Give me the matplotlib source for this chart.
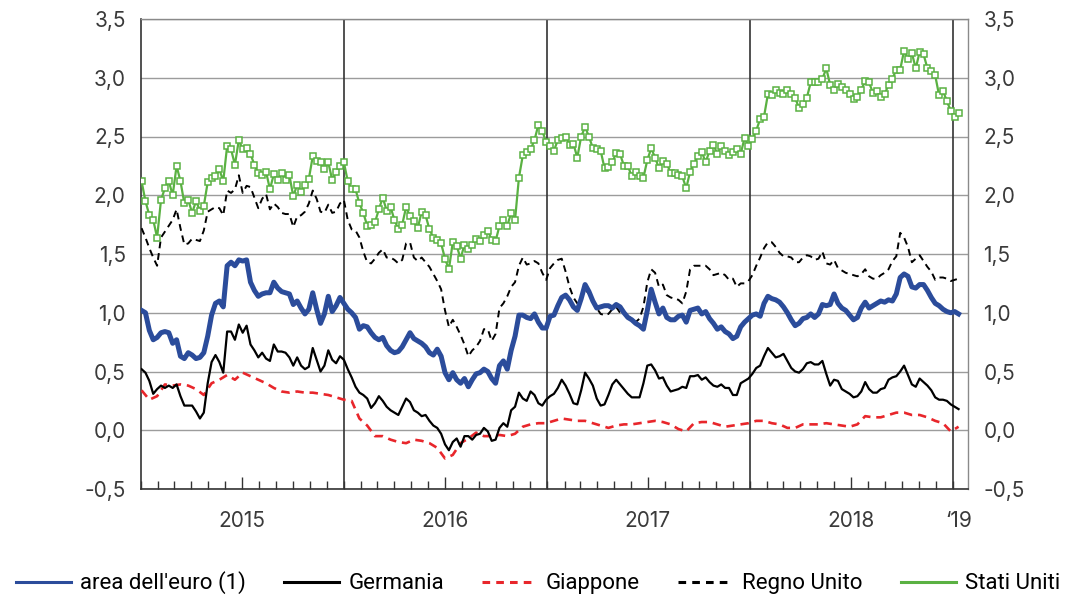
"""plot.py.

Rendimenti dei titoli di Stato decennali: area dell'euro, Germania,
Giappone, Regno Unito e Stati Uniti (dati settimanali, 2015 - gen. 2019).
"""

# === DECLARE IMPORTS ===

import matplotlib

matplotlib.use("Agg")

import matplotlib.dates as mdates
import matplotlib.pyplot as plt
import matplotlib.transforms as mtransforms
import pandas as pd
from matplotlib.lines import Line2D
from matplotlib.ticker import FixedLocator, FuncFormatter

# === DEFINE DATA (weekly values, first week = 2 Jan 2015) ===

start_date = "2015-01-02"

euro_area = [
    1.02, 1.00, 0.85, 0.77, 0.79, 0.83, 0.84, 0.83, 0.74, 0.77,
    0.63, 0.61, 0.66, 0.64, 0.61, 0.62, 0.66, 0.80, 0.98, 1.08,
    1.10, 1.05, 1.40, 1.43, 1.40, 1.45, 1.44, 1.45, 1.26, 1.19,
    1.14, 1.16, 1.17, 1.17, 1.26, 1.21, 1.18, 1.17, 1.16, 1.07,
    1.10, 1.04, 0.99, 1.03, 1.17, 1.03, 0.91, 0.99, 1.14, 1.01,
    1.06, 1.13, 1.08, 1.03, 1.00, 0.96, 0.86, 0.89, 0.88, 0.83,
    0.79, 0.77, 0.79, 0.72, 0.68, 0.66, 0.67, 0.71, 0.77, 0.83,
    0.78, 0.76, 0.74, 0.71, 0.66, 0.64, 0.69, 0.63, 0.49, 0.43,
    0.49, 0.43, 0.40, 0.44, 0.37, 0.43, 0.48, 0.49, 0.52, 0.50,
    0.44, 0.40, 0.55, 0.59, 0.52, 0.68, 0.80, 0.98, 0.98, 0.96,
    0.95, 0.99, 0.92, 0.87, 0.87, 0.97, 0.98, 1.06, 1.13, 1.15,
    1.11, 1.05, 1.02, 1.12, 1.24, 1.18, 1.10, 1.04, 1.05, 1.06,
    1.06, 1.04, 1.07, 1.05, 1.00, 0.96, 0.94, 0.91, 0.89, 0.86,
    1.02, 1.20, 1.09, 0.99, 1.04, 0.96, 0.94, 0.94, 0.97, 0.98,
    0.92, 1.02, 1.03, 1.04, 0.99, 1.01, 0.95, 0.91, 0.86, 0.88,
    0.84, 0.82, 0.78, 0.80, 0.88, 0.92, 0.95, 0.98, 0.99, 0.97,
    1.08, 1.14, 1.12, 1.11, 1.09, 1.05, 1.00, 0.94, 0.89, 0.91,
    0.95, 0.96, 0.99, 0.96, 0.99, 1.07, 1.06, 1.07, 1.16, 1.08,
    1.04, 1.02, 0.98, 0.94, 0.96, 1.04, 1.09, 1.04, 1.06, 1.08,
    1.10, 1.09, 1.11, 1.10, 1.16, 1.30, 1.33, 1.31, 1.22, 1.21,
    1.24, 1.24, 1.19, 1.13, 1.08, 1.06, 1.03, 1.01, 1.00, 1.01,
    0.99,
]

germany = [
    0.52, 0.49, 0.42, 0.31, 0.35, 0.38, 0.36, 0.38, 0.36, 0.39,
    0.29, 0.21, 0.21, 0.21, 0.16, 0.10, 0.15, 0.40, 0.58, 0.64,
    0.58, 0.49, 0.84, 0.84, 0.77, 0.90, 0.83, 0.89, 0.73, 0.68,
    0.62, 0.66, 0.61, 0.59, 0.73, 0.67, 0.67, 0.66, 0.62, 0.55,
    0.62, 0.55, 0.52, 0.54, 0.70, 0.60, 0.50, 0.55, 0.68, 0.60,
    0.57, 0.63, 0.60, 0.52, 0.45, 0.37, 0.32, 0.30, 0.27, 0.19,
    0.23, 0.29, 0.25, 0.20, 0.17, 0.15, 0.13, 0.20, 0.27, 0.24,
    0.17, 0.15, 0.12, 0.13, 0.08, 0.04, 0.02, -0.03, -0.12, -0.17,
    -0.10, -0.07, -0.14, -0.05, -0.05, -0.08, -0.04, -0.03, 0.02, -0.01,
    -0.09, -0.08, 0.02, 0.06, 0.03, 0.17, 0.20, 0.32, 0.27, 0.25,
    0.33, 0.30, 0.23, 0.21, 0.26, 0.29, 0.31, 0.36, 0.43, 0.38,
    0.31, 0.23, 0.22, 0.34, 0.49, 0.44, 0.38, 0.27, 0.21, 0.22,
    0.30, 0.39, 0.43, 0.39, 0.35, 0.31, 0.28, 0.28, 0.28, 0.40,
    0.55, 0.56, 0.51, 0.44, 0.45, 0.38, 0.33, 0.34, 0.35, 0.37,
    0.36, 0.46, 0.46, 0.47, 0.43, 0.45, 0.41, 0.38, 0.37, 0.39,
    0.36, 0.36, 0.30, 0.30, 0.40, 0.42, 0.44, 0.48, 0.53, 0.55,
    0.63, 0.70, 0.66, 0.62, 0.63, 0.65, 0.59, 0.53, 0.50, 0.49,
    0.52, 0.57, 0.58, 0.56, 0.56, 0.59, 0.48, 0.38, 0.43, 0.42,
    0.35, 0.33, 0.31, 0.28, 0.29, 0.33, 0.41, 0.35, 0.32, 0.32,
    0.35, 0.36, 0.43, 0.45, 0.46, 0.50, 0.55, 0.47, 0.39, 0.37,
    0.44, 0.41, 0.38, 0.34, 0.28, 0.26, 0.26, 0.25, 0.22, 0.20,
    0.18,
]

# Japan: one value every two weeks
japan = [
    0.34, 0.26, 0.29, 0.39, 0.38, 0.39, 0.38, 0.35, 0.30, 0.40,
    0.43, 0.47, 0.43, 0.49, 0.46, 0.43, 0.40, 0.36, 0.33, 0.32,
    0.33, 0.32, 0.32, 0.31, 0.30, 0.28, 0.26, 0.25, 0.10, 0.04,
    -0.05, -0.05, -0.08, -0.10, -0.11, -0.08, -0.09, -0.11, -0.15, -0.24,
    -0.21, -0.11, -0.07, -0.02, -0.05, -0.05, -0.04, -0.05, -0.03, 0.03,
    0.05, 0.06, 0.06, 0.08, 0.10, 0.09, 0.08, 0.08, 0.06, 0.04,
    0.02, 0.04, 0.05, 0.05, 0.06, 0.07, 0.08, 0.07, 0.05, 0.01,
    -0.01, 0.06, 0.07, 0.07, 0.05, 0.03, 0.04, 0.05, 0.06, 0.08,
    0.08, 0.06, 0.05, 0.02, 0.02, 0.05, 0.05, 0.05, 0.06, 0.05,
    0.04, 0.03, 0.05, 0.12, 0.11, 0.11, 0.13, 0.15, 0.15, 0.13,
    0.13, 0.11, 0.08, 0.06, -0.01, 0.03,
]

uk = [
    1.72, 1.64, 1.55, 1.47, 1.40, 1.64, 1.69, 1.74, 1.79, 1.88,
    1.72, 1.58, 1.59, 1.63, 1.62, 1.61, 1.70, 1.86, 1.88, 1.90,
    1.89, 1.83, 2.04, 2.02, 2.05, 2.17, 2.02, 2.08, 2.07, 1.98,
    1.89, 1.97, 2.01, 1.88, 1.93, 1.90, 1.85, 1.84, 1.84, 1.73,
    1.82, 1.83, 1.86, 1.93, 2.04, 1.97, 1.86, 1.85, 1.92, 1.85,
    1.86, 1.93, 1.96, 1.79, 1.71, 1.70, 1.64, 1.52, 1.43, 1.42,
    1.46, 1.51, 1.54, 1.47, 1.47, 1.45, 1.42, 1.45, 1.59, 1.60,
    1.47, 1.44, 1.47, 1.43, 1.39, 1.33, 1.27, 1.20, 1.02, 0.88,
    0.94, 0.88, 0.81, 0.73, 0.63, 0.68, 0.71, 0.76, 0.86, 0.86,
    0.76, 0.82, 1.04, 1.08, 1.14, 1.22, 1.26, 1.40, 1.47, 1.41,
    1.42, 1.44, 1.42, 1.34, 1.28, 1.38, 1.42, 1.45, 1.46, 1.35,
    1.22, 1.13, 1.08, 1.12, 1.20, 1.16, 1.10, 1.04, 0.99, 0.98,
    0.99, 1.03, 1.05, 1.00, 0.99, 0.97, 0.95, 0.92, 0.95, 1.05,
    1.26, 1.37, 1.34, 1.22, 1.24, 1.15, 1.13, 1.12, 1.11, 1.08,
    1.18, 1.37, 1.40, 1.40, 1.40, 1.40, 1.37, 1.32, 1.33, 1.34,
    1.32, 1.28, 1.29, 1.22, 1.25, 1.25, 1.27, 1.32, 1.40, 1.47,
    1.55, 1.60, 1.60, 1.56, 1.51, 1.48, 1.48, 1.47, 1.43, 1.43,
    1.47, 1.49, 1.48, 1.45, 1.46, 1.52, 1.42, 1.41, 1.45, 1.38,
    1.36, 1.34, 1.33, 1.32, 1.31, 1.33, 1.37, 1.31, 1.29, 1.29,
    1.32, 1.34, 1.37, 1.44, 1.48, 1.68, 1.64, 1.56, 1.43, 1.46,
    1.49, 1.44, 1.39, 1.35, 1.28, 1.30, 1.30, 1.29, 1.27, 1.28,
    1.29,
]

us = [
    2.12, 1.95, 1.83, 1.79, 1.64, 1.96, 2.06, 2.12, 2.00, 2.25,
    2.12, 1.93, 1.96, 1.85, 1.95, 1.87, 1.91, 2.11, 2.15, 2.16,
    2.22, 2.12, 2.42, 2.39, 2.26, 2.47, 2.39, 2.40, 2.35, 2.26,
    2.19, 2.17, 2.20, 2.05, 2.18, 2.13, 2.19, 2.13, 2.17, 1.99,
    2.09, 2.03, 2.09, 2.14, 2.33, 2.29, 2.28, 2.22, 2.28, 2.13,
    2.20, 2.25, 2.28,
    2.12, 2.05, 2.05, 1.93, 1.85, 1.74, 1.75, 1.77, 1.88, 1.98,
    1.87, 1.90, 1.79, 1.71, 1.75, 1.90, 1.82, 1.78, 1.72, 1.86,
    1.83, 1.71, 1.64, 1.62, 1.59, 1.46, 1.37, 1.60, 1.57, 1.46,
    1.58, 1.54, 1.58, 1.63, 1.61, 1.66, 1.70, 1.62, 1.61, 1.74,
    1.79, 1.74, 1.85, 1.79, 2.15, 2.34, 2.37, 2.39, 2.47, 2.60,
    2.55, 2.45,
    2.42, 2.38, 2.47, 2.49, 2.50, 2.43, 2.44, 2.32, 2.50, 2.58,
    2.50, 2.40, 2.39, 2.38, 2.23, 2.24, 2.28, 2.36, 2.35, 2.25,
    2.25, 2.16, 2.20, 2.16, 2.15, 2.30, 2.40, 2.32, 2.23, 2.29,
    2.27, 2.19, 2.19, 2.17, 2.16, 2.06, 2.20, 2.27, 2.33, 2.37,
    2.28, 2.38, 2.43, 2.35, 2.42, 2.38, 2.34, 2.37, 2.39, 2.35,
    2.49, 2.42, 2.48,
    2.55, 2.65, 2.67, 2.86, 2.85, 2.90, 2.87, 2.86, 2.90, 2.86,
    2.83, 2.74, 2.78, 2.83, 2.96, 2.96, 2.96, 2.99, 3.08, 2.94,
    2.90, 2.95, 2.92, 2.90, 2.86, 2.82, 2.84, 2.90, 2.97, 2.96,
    2.87, 2.89, 2.84, 2.86, 2.94, 2.99, 3.07, 3.07, 3.23, 3.16,
    3.21, 3.08, 3.22, 3.20, 3.08, 3.06, 3.02, 2.85, 2.89, 2.80,
    2.72, 2.67, 2.70,
]

labels = ["area dell'euro (1)", "Germania", "Giappone", "Regno Unito", "Stati Uniti"]
year_labels = ["2015", "2016", "2017", "2018", "\u201819"]
y_ticks = [-0.5, 0.0, 0.5, 1.0, 1.5, 2.0, 2.5, 3.0, 3.5]

# === DEFINE STYLE ===

BLUE = "#2b4c9b"
RED = "#e8262b"
GREEN = "#5ab142"
DARK = "#333333"
GRID = "#9c9c9c"
TEXT = "#3a3a3a"
TICK_SIZE = 15

plt.rcParams["font.family"] = ["Inter", "DejaVu Sans"]


def weekly(values, step=1):
    """Return weekly dates matching a series (every `step` weeks)."""
    return pd.date_range(start_date, periods=len(values), freq=f"{7 * step}D")


# === DRAW CHART ===

fig = plt.figure(figsize=(10.76, 5.98), dpi=100)
ax = fig.add_axes([141 / 1076, 1 - 489 / 598, (968 - 141) / 1076, (489 - 19) / 598])

ax.set_ylim(-0.5, 3.5)
ax.set_xlim(pd.Timestamp("2015-01-01"), pd.Timestamp("2019-01-28"))

ax.yaxis.set_major_locator(FixedLocator(y_ticks))
ax.yaxis.set_major_formatter(FuncFormatter(lambda v, _: f"{v:.1f}".replace(".", ",")))
ax.grid(axis="y", color=GRID, linewidth=1.0)
ax.set_axisbelow(True)

for year in range(2016, 2020):
    ax.axvline(pd.Timestamp(f"{year}-01-01"), color=DARK, linewidth=1.2, zorder=1)

ax.plot(weekly(uk), uk, color="black", linewidth=1.4, dashes=(3.5, 2.5), zorder=3)
ax.plot(weekly(japan, 2), japan, color=RED, linewidth=1.9, dashes=(3.2, 2.2), zorder=3)
ax.plot(weekly(germany), germany, color="black", linewidth=1.6, zorder=4)
ax.plot(weekly(euro_area), euro_area, color=BLUE, linewidth=3.6, zorder=5)
ax.plot(
    weekly(us), us, color=GREEN, linewidth=1.6, marker="s", markersize=4.2,
    markerfacecolor="white", markeredgecolor=GREEN, markeredgewidth=1.1, zorder=6,
)

# spines
for side in ("left", "bottom"):
    ax.spines[side].set_color(DARK)
    ax.spines[side].set_linewidth(1.2)
for side in ("top", "right"):
    ax.spines[side].set_color("#8a8a8a")
    ax.spines[side].set_linewidth(1.0)

# y labels on both sides
ax.tick_params(axis="y", which="both", length=0, labelsize=TICK_SIZE, labelcolor=TEXT,
               left=True, right=True, labelleft=True, labelright=True)
ax.tick_params(axis="y", which="major", pad=11)

# x: monthly ticks inside, mid-year longer ticks carry the labels
ax.xaxis.set_minor_locator(mdates.MonthLocator())
ax.xaxis.set_major_locator(FixedLocator(
    [mdates.date2num(pd.Timestamp(f"{y}-07-01")) for y in range(2015, 2019)]))
ax.xaxis.set_major_formatter(FuncFormatter(lambda v, pos: year_labels[pos]))
ax.tick_params(axis="x", which="minor", direction="in", length=5.5, width=1.0, color=DARK)
ax.tick_params(axis="x", which="major", direction="in", length=9, width=1.0, color=DARK,
               pad=16, labelsize=TICK_SIZE, labelcolor=TEXT)

trans = mtransforms.blended_transform_factory(ax.transData, ax.transAxes)
ax.text(mdates.date2num(pd.Timestamp("2019-01-12")), -0.068, year_labels[-1],
        transform=trans, ha="center", va="center", fontsize=TICK_SIZE, color=TEXT)

# legend
handles = [
    Line2D([], [], color=BLUE, linewidth=2.2),
    Line2D([], [], color="black", linewidth=2.2),
    Line2D([], [], color=RED, linewidth=2.2, dashes=(2.5, 2)),
    Line2D([], [], color="black", linewidth=2.2, dashes=(2.5, 2)),
    Line2D([], [], color=GREEN, linewidth=2.2),
]
fig.legend(
    handles, labels, loc="center", bbox_to_anchor=(0.5, 1 - 583 / 598), ncol=5,
    frameon=False, handlelength=2.5, handletextpad=0.4, columnspacing=1.7,
    prop={"family": ["Roboto", "DejaVu Sans"], "size": 16},
    labelcolor="black",
)

fig.savefig("out.png", dpi=100)
